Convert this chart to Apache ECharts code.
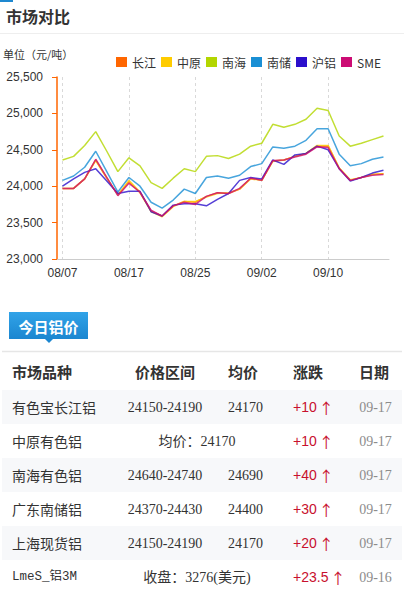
<!DOCTYPE html>
<html>
<head>
<meta charset="utf-8">
<script src="https://cdn.jsdelivr.net/npm/echarts@6/dist/echarts.min.js"></script>
<style>
html,body{margin:0;padding:0;background:#fff;}
#c{width:404px;height:594px;}
</style>
</head>
<body>
<div id="c"></div>
<script>
// ---- chart data ----
const categories = ['08/07','08/08','08/09','08/10','08/13','08/16','08/17','08/20','08/21','08/22',
  '08/23','08/24','08/25','08/27','08/28','08/29','08/30','08/31','09/02','09/03',
  '09/04','09/05','09/06','09/07','09/10','09/11','09/12','09/13','09/14','09/17'];
const changjiang = [23970,23970,24100,24360,24110,23880,24060,23910,23660,23590,
  23730,23790,23780,23860,23910,23900,23960,24110,24080,24350,
  24360,24410,24450,24550,24550,24250,24080,24120,24160,24170];
const zhongyuan = [23970,23970,24100,24350,24110,23880,24080,23920,23650,23580,
  23720,23790,23790,23850,23900,23910,23960,24100,24080,24340,
  24360,24410,24450,24560,24560,24250,24090,24120,24160,24170];
const nanhai = [24360,24410,24560,24750,24480,24200,24390,24280,24050,23970,
  24110,24240,24200,24410,24420,24380,24440,24550,24590,24850,
  24810,24850,24920,25070,25040,24690,24550,24590,24640,24690];
const nanchu = [24080,24140,24260,24480,24200,23920,24120,24000,23780,23700,
  23810,23960,23900,24120,24140,24110,24150,24270,24310,24540,
  24520,24550,24630,24790,24790,24440,24280,24310,24370,24400];
const hulv = [24000,24100,24190,24240,24070,23900,23930,23930,23650,23590,
  23740,23760,23760,23730,23820,23900,24080,24120,24100,24360,
  24300,24430,24450,24550,24500,24240,24070,24120,24180,24220];
const sme = [23970,23970,24100,24370,24120,23870,24040,23920,23670,23590,
  23730,23780,23750,23860,23910,23900,23970,24110,24080,24350,
  24360,24400,24440,24540,24530,24240,24080,24120,24150,24160];
const seriesNames = ['长江','中原','南海','南储','沪铝','SME'];
const seriesColors = ['#ff6600','#ffcc00','#b3d600','#1a8fd4','#2b0fcc','#cc0c74'];
const yMin = 23000, yMax = 25500, yStep = 500;

// ---- table data ----
const tableHeaders = ['市场品种','价格区间','均价','涨跌','日期'];
const rowNames = ['有色宝长江铝','中原有色铝','南海有色铝','广东南储铝','上海现货铝','LmeS_铝3M'];
const rowRanges = ['24150-24190','均价：24170','24640-24740','24370-24430','24150-24190','收盘：3276(美元)'];
const rowAvgs = ['24170','','24690','24400','24170',''];
const rowChanges = ['+10','+10','+40','+30','+20','+23.5'];
const rowDates = ['09-17','09-17','09-17','09-17','09-17','09-16'];

const seriesData = [changjiang, zhongyuan, nanhai, nanchu, hulv, sme];

const chart = echarts.init(document.getElementById('c'), null, {renderer:'svg', width:404, height:594});

const CJK = "'Noto Sans CJK SC', sans-serif";
const SERIF = "'Liberation Serif', 'Noto Sans CJK SC', serif";

function txt(x, y, text, opts) {
  opts = opts || {};
  const s = {
    text: text,
    fill: opts.fill || '#333',
    font: opts.font || ('14px ' + CJK),
    textAlign: opts.align || 'left',
    align: opts.align || 'left',
    textVerticalAlign: 'middle',
    verticalAlign: 'middle'
  };
  if (opts.rich) s.rich = opts.rich;
  return { type: 'text', x: x, y: y, z: 10, style: s, silent: true };
}

const graphics = [];
// header area
graphics.push({type:'rect', shape:{x:0,y:0,width:13,height:2}, style:{fill:'#1e88d0'}, silent:true});
graphics.push(txt(6, 16, '市场对比', {font:'bold 16px ' + CJK, fill:'#333'}));
graphics.push({type:'line', shape:{x1:0,y1:33.5,x2:404,y2:33.5}, style:{stroke:'#eeeeee', lineWidth:1}, silent:true});
graphics.push(txt(3, 54, '单位（元/吨）', {font:'11px ' + CJK, fill:'#333'}));

// tag
graphics.push({type:'rect', shape:{x:9,y:312,width:79,height:27},
  style:{fill:new echarts.graphic.LinearGradient(0,0,0,1,[{offset:0,color:'#31a3e8'},{offset:1,color:'#1b86d0'}])}, silent:true});
graphics.push({type:'polygon', shape:{points:[[45,339],[53,339],[49,343]]}, style:{fill:'#1b86d0'}, silent:true});
graphics.push(txt(48.5, 326, '今日铝价', {font:'bold 15px ' + CJK, fill:'#ffffff', align:'center'}));
graphics.push({type:'line', shape:{x1:2,y1:351.5,x2:402,y2:351.5}, style:{stroke:'#e6e6e6', lineWidth:1.5}, silent:true});

// table header
const colX = [12, 165, 243, 293, 374];
const hdrAlign = ['left','center','center','left','center'];
tableHeaders.forEach(function(h, i){
  graphics.push(txt(colX[i], 371, h, {font:'bold 15px ' + CJK, fill:'#333', align:hdrAlign[i]}));
});

// rows
const rowTop = 390, rowH = 34;
rowNames.forEach(function(name, r){
  const top = rowTop + r*rowH;
  const cy = top + rowH/2;
  if (r % 2 === 0) {
    graphics.push({type:'rect', z:1, shape:{x:2,y:top,width:400,height:rowH}, style:{fill:'#f7f8fa'}, silent:true});
  }
  const isLme = name.indexOf('LmeS') === 0;
  graphics.push(txt(12, cy, name, {font: isLme ? "12.5px 'Liberation Mono', 'Noto Sans CJK SC', monospace" : ('14px ' + CJK), fill:'#333'}));
  if (rowAvgs[r] === '') {
    graphics.push(txt(197, cy, rowRanges[r], {font:'14px ' + SERIF, fill:'#333', align:'center'}));
  } else {
    graphics.push(txt(165, cy, rowRanges[r], {font:'14px ' + SERIF, fill:'#333', align:'center'}));
    graphics.push(txt(245.5, cy, rowAvgs[r], {font:'14px ' + SERIF, fill:'#333', align:'center'}));
  }
  graphics.push(txt(293, cy, '{v|' + rowChanges[r] + '}{a|↑}', {
    fill:'#c8102e',
    font:"14px 'Liberation Sans', sans-serif",
    rich:{
      v:{fill:'#c8102e', font:"14px 'Liberation Sans', sans-serif"},
      a:{fill:'#c8102e', font:"15px 'Noto Sans CJK SC', sans-serif", padding:[0,0,0,2]}
    }
  }));
  graphics.push(txt(375.5, cy, rowDates[r], {font:'14px ' + SERIF, fill:'#8c8c8c', align:'center'}));
});

const option = {
  animation: false,
  textStyle: { fontFamily: "'Liberation Sans', 'Noto Sans CJK SC', sans-serif" },
  legend: {
    data: seriesNames,
    left: 111, top: 51,
    icon: 'rect',
    itemWidth: 11, itemHeight: 10, itemGap: 5,
    textStyle: { fontSize: 12, color: '#333', fontFamily: CJK }
  },
  grid: { left: 57, right: 15, top: 77, bottom: 335, containLabel: false },
  xAxis: {
    type: 'category',
    data: categories,
    boundaryGap: true,
    axisLine: { show: true, lineStyle: { color: '#cccccc', width: 1 } },
    axisTick: { show: false },
    axisLabel: { interval: 5, color: '#333', fontSize: 12, margin: 8 },
    splitLine: { show: true, interval: 5, alignWithLabel: true, lineStyle: { color: '#d9d9d9', type: [3, 3], width: 1 } }
  },
  yAxis: {
    type: 'value',
    min: yMin, max: yMax, interval: yStep,
    axisLine: { show: true, lineStyle: { color: '#ff6600', width: 1.5 } },
    axisTick: { show: true, length: 5, lineStyle: { color: '#ff6600', width: 1 } },
    axisLabel: { color: '#333', fontSize: 12, margin: 14,
      formatter: function(v){ return v.toLocaleString('en-US'); } },
    splitLine: { show: false }
  },
  series: seriesNames.map(function(n, i){
    return {
      name: n, type: 'line', data: seriesData[i],
      showSymbol: false, symbol: 'none',
      itemStyle: { color: seriesColors[i] },
      lineStyle: { color: seriesColors[i], width: 1.5, opacity: 0.8 },
      z: 2 + i
    };
  }),
  graphic: graphics
};
chart.setOption(option);
</script>
</body>
</html>
